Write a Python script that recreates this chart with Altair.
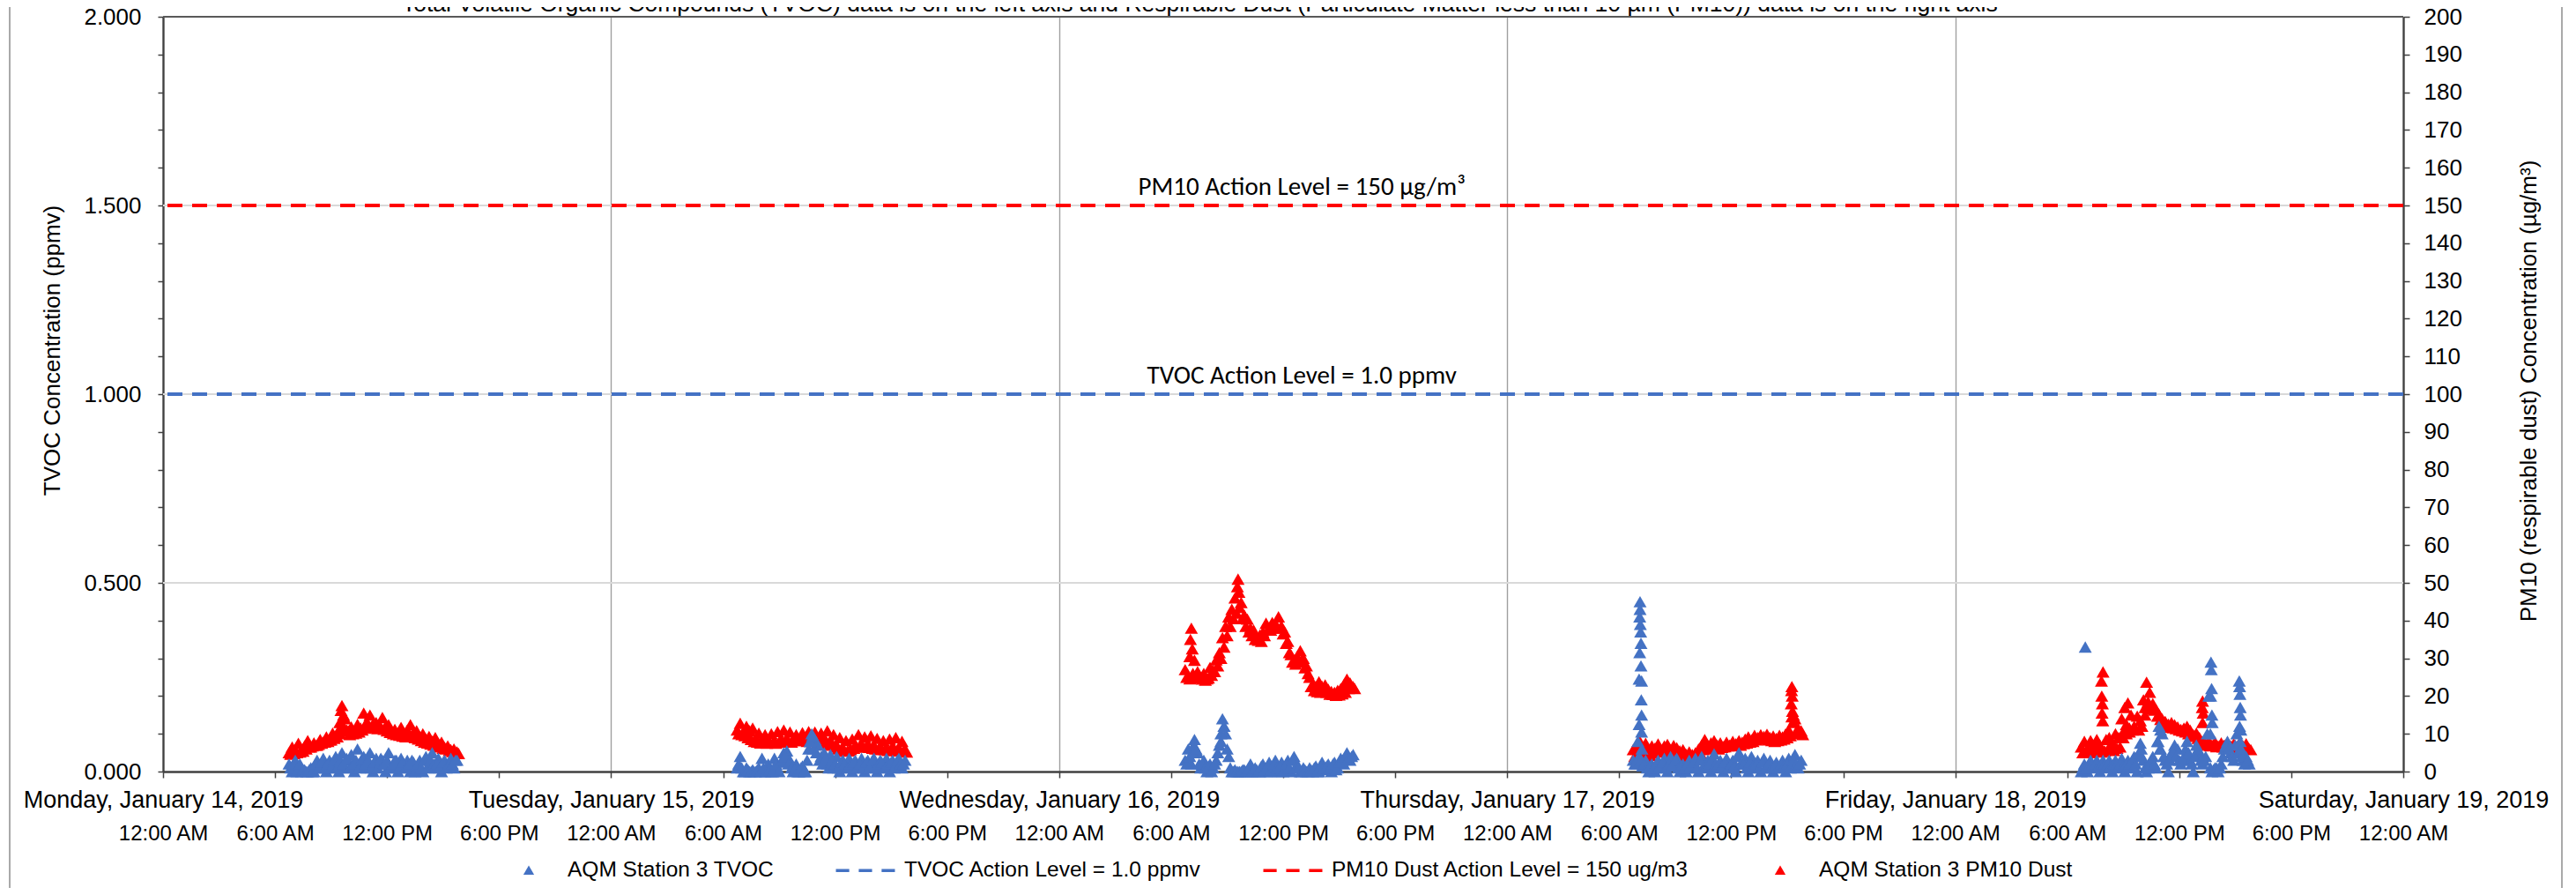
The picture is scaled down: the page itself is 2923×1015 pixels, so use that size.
import altair as alt
import pandas as pd

FONT = "Liberation Sans, Arial, Helvetica, sans-serif"
NOTE_FONT = "Carlito, Lato, sans-serif"
BLUE = "#4472C4"
RED = "#FF0000"
AXIS_DARK = "#404040"

TITLE = ("Total Volatile Organic Compounds (TVOC) data is on the left axis and Respirable Dust "
         "(Particulate Matter less than 10 \u00b5m (PM10)) data is on the right axis")

# ---------------- data ----------------
DAYS = ["2019-01-14", "2019-01-15", "2019-01-16", "2019-01-17", "2019-01-18"]
FIRST_READING = "06:45"
STEP_MINUTES = 10
OFFSET_MINUTES = 5

# PM10 upper edge of the band (readings every 10 min from 06:45)
PM10_MON = [5.0, 6.5, 5.2, 7.5, 5.8, 6.8, 8.2, 6.5, 7.6, 7.0, 8.5, 7.8, 9.2, 8.4, 10.2, 9.4, 11.0, 17.5,
            14.0, 10.8, 11.8, 10.6, 12.5, 11.5, 15.5, 13.2, 15.0, 12.5, 13.0, 11.8, 14.3, 12.0, 12.4, 10.6,
            11.2, 10.0, 11.7, 10.2, 11.0, 12.4, 10.3, 10.8, 9.2, 10.0, 8.6, 9.3, 8.0, 9.0, 7.2, 7.8, 6.4,
            6.8, 5.8, 6.0, 5.2]
PM10_TUE = [11.0, 12.8, 10.5, 12.0, 10.8, 11.5, 9.0, 10.2, 8.5, 9.8, 8.2, 10.0, 8.0, 10.6, 8.6, 11.0, 8.8,
            10.5, 8.4, 9.8, 8.2, 10.3, 8.6, 10.6, 9.0, 10.5, 8.7, 10.2, 9.0, 10.8, 8.3, 9.8, 7.0, 9.0, 6.3,
            8.2, 5.6, 8.6, 6.8, 9.8, 7.3, 9.2, 7.4, 9.5, 7.0, 8.8, 6.7, 8.2, 6.3, 8.6, 6.8, 9.0, 6.0, 8.0, 5.8]
PM10_WED = [27.0, 25.5, 38.0, 29.5, 26.5, 24.8, 26.0, 24.6, 27.6, 26.8, 29.6, 31.5, 35.5, 38.5, 41.0, 43.0,
            46.0, 51.0, 44.8, 41.5, 40.4, 38.0, 37.5, 35.5, 36.2, 37.0, 39.3, 38.0, 39.5, 39.0, 41.0, 38.5,
            37.0, 34.5, 31.0, 29.5, 30.5, 32.0, 30.0, 28.0, 25.0, 23.0, 22.5, 23.8, 22.6, 23.0, 21.8, 21.2,
            21.0, 21.5, 22.0, 23.0, 24.5, 23.5, 22.5]
PM10_THU = [5.8, 7.0, 8.2, 6.5, 7.5, 5.8, 6.8, 6.2, 7.3, 5.8, 6.8, 7.2, 5.8, 6.9, 6.3, 5.5, 5.8, 4.6, 5.2,
            4.5, 5.0, 6.0, 7.0, 8.5, 6.8, 7.6, 8.2, 7.0, 7.6, 6.6, 7.8, 7.0, 8.0, 7.4, 8.2, 7.8, 8.6, 9.2,
            8.4, 9.6, 9.0, 9.8, 9.3, 9.9, 9.0, 9.4, 8.8, 9.6, 9.2, 10.0, 11.0, 22.5, 14.0, 11.5, 10.8]
PM10_FRI = [6.5, 8.0, 6.2, 8.2, 6.8, 8.5, 7.0, 26.4, 8.5, 9.0, 7.8, 10.0, 9.0, 14.0, 17.0, 18.2, 15.0, 12.0,
            14.7, 13.5, 19.0, 23.7, 21.0, 18.0, 16.5, 15.2, 14.0, 13.3, 12.6, 13.0, 12.4, 11.8, 11.2, 11.5,
            12.0, 11.0, 9.8, 10.2, 9.0, 18.7, 7.4, 8.0, 7.0, 7.8, 6.8, 7.6, 7.0, 7.8, 6.8, 7.4, 6.6, 7.8,
            6.8, 7.4, 6.0]

# PM10 lower edge of the band (readings every 10 min from 06:50)
PM10_MON_LOW = [4.6, 4.8, 5.0, 5.2, 5.4, 6.0, 6.5, 6.8, 7.0, 7.2, 7.5, 7.8, 8.0, 8.4, 8.8, 9.2, 10.0, 12.0,
                11.0, 9.8, 10.0, 10.2, 10.5, 11.0, 11.5, 11.8, 12.0, 11.6, 11.4, 11.8, 11.2, 10.8, 10.4,
                10.0, 9.8, 9.6, 9.4, 9.2, 9.4, 9.6, 9.0, 8.6, 8.2, 7.8, 7.6, 7.3, 7.0, 6.8, 6.5, 6.2, 6.0,
                5.6, 5.3, 5.0, 4.8]
PM10_TUE_LOW = [10.0, 9.8, 9.5, 9.0, 8.5, 8.0, 7.8, 7.6, 7.8, 7.5, 7.8, 7.6, 7.5, 7.8, 8.0, 8.2, 8.0, 7.8,
                8.2, 8.5, 8.6, 8.3, 8.0, 8.2, 8.5, 8.0, 8.2, 7.8, 7.6, 7.2, 7.0, 6.5, 6.0, 5.6, 5.4, 5.5,
                5.8, 6.2, 6.5, 6.8, 6.5, 6.6, 6.4, 6.2, 6.0, 6.0, 5.8, 5.8, 5.6, 5.8, 5.6, 5.5, 5.6, 5.4, 5.2]
PM10_WED_LOW = [25.0, 24.6, 26.0, 25.2, 24.8, 24.5, 24.2, 24.8, 25.5, 26.5, 28.0, 30.0, 33.0, 36.0, 38.5,
                40.5, 42.0, 43.5, 40.5, 38.5, 37.0, 36.0, 35.0, 34.8, 34.5, 36.0, 37.5, 37.5, 38.0, 38.5,
                38.0, 36.5, 34.0, 31.5, 29.0, 28.5, 29.0, 29.5, 27.5, 26.0, 22.5, 21.5, 21.2, 21.0, 21.2,
                21.0, 20.5, 20.4, 20.2, 20.3, 20.6, 21.0, 22.0, 22.5, 22.0]
PM10_THU_LOW = [4.0, 4.2, 4.5, 4.2, 4.0, 4.3, 5.0, 5.4, 5.2, 5.5, 5.3, 5.0, 5.4, 5.2, 5.0, 4.4, 4.0, 4.2,
                3.9, 4.1, 4.5, 5.0, 5.8, 6.2, 6.0, 6.2, 6.4, 6.0, 6.4, 6.6, 6.8, 7.0, 6.8, 7.2, 7.0, 7.4,
                7.6, 7.8, 8.0, 8.4, 8.6, 8.8, 8.6, 8.4, 8.2, 8.0, 8.2, 8.4, 8.6, 9.0, 9.5, 15.0, 10.5, 10.0,
                9.8]
PM10_FRI_LOW = [5.0, 5.2, 5.4, 5.0, 5.3, 5.6, 5.2, 5.5, 5.8, 6.0, 5.6, 6.2, 6.5, 9.0, 10.0, 10.5, 11.0,
                11.2, 11.0, 12.0, 15.0, 17.0, 17.0, 16.3, 14.7, 13.8, 12.8, 12.2, 11.8, 11.6, 11.4, 11.0,
                10.8, 10.5, 10.0, 9.6, 9.3, 8.8, 8.2, 7.5, 7.0, 6.8, 7.0, 6.6, 6.8, 6.5, 6.4, 6.2, 6.4, 6.0,
                6.2, 6.3, 6.0, 6.1, 5.8]

# TVOC readings every 10 min from 06:45
TVOC_MON = [0.02, 0.00, 0.03, 0.01, 0.00, 0.005, 0.00, 0.01, 0.00, 0.03, 0.01, 0.035, 0.00, 0.03, 0.02,
            0.04, 0.00, 0.05, 0.01, 0.03, 0.045, 0.00, 0.06, 0.02, 0.04, 0.01, 0.05, 0.00, 0.035, 0.02,
            0.03, 0.00, 0.05, 0.01, 0.03, 0.00, 0.035, 0.02, 0.03, 0.00, 0.025, 0.01, 0.03, 0.00, 0.04,
            0.02, 0.05, 0.01, 0.035, 0.00, 0.03, 0.02, 0.035, 0.01, 0.03]
TVOC_TUE = [0.01, 0.04, 0.00, 0.01, 0.00, 0.005, 0.00, 0.01, 0.035, 0.00, 0.02, 0.00, 0.035, 0.01, 0.025,
            0.05, 0.055, 0.03, 0.00, 0.02, 0.00, 0.015, 0.00, 0.06, 0.10, 0.085, 0.07, 0.04, 0.05, 0.02,
            0.045, 0.01, 0.04, 0.00, 0.03, 0.01, 0.035, 0.00, 0.03, 0.01, 0.035, 0.00, 0.03, 0.02, 0.035,
            0.00, 0.03, 0.01, 0.035, 0.00, 0.03, 0.02, 0.035, 0.01, 0.03]
TVOC_WED = [0.03, 0.06, 0.02, 0.085, 0.05, 0.01, 0.03, 0.00, 0.02, 0.01, 0.03, 0.07, 0.14, 0.10, 0.04,
            0.00, 0.005, 0.00, 0.00, 0.005, 0.00, 0.02, 0.00, 0.005, 0.00, 0.02, 0.00, 0.025, 0.005, 0.03,
            0.00, 0.025, 0.01, 0.03, 0.00, 0.04, 0.02, 0.00, 0.01, 0.00, 0.01, 0.00, 0.015, 0.00, 0.025,
            0.005, 0.02, 0.00, 0.025, 0.01, 0.035, 0.02, 0.05, 0.03, 0.045]
TVOC_THU = [0.03, 0.02, 0.04, 0.015, 0.03, 0.00, 0.02, 0.00, 0.03, 0.01, 0.035, 0.00, 0.04, 0.02, 0.035,
            0.00, 0.02, 0.00, 0.03, 0.01, 0.035, 0.00, 0.04, 0.02, 0.03, 0.00, 0.047, 0.01, 0.03, 0.00,
            0.035, 0.01, 0.03, 0.00, 0.05, 0.02, 0.035, 0.00, 0.04, 0.01, 0.03, 0.00, 0.035, 0.01, 0.03,
            0.00, 0.025, 0.01, 0.03, 0.00, 0.035, 0.02, 0.045, 0.01, 0.03]
TVOC_FRI = [0.00, 0.02, 0.00, 0.03, 0.01, 0.03, 0.00, 0.03, 0.01, 0.03, 0.00, 0.03, 0.01, 0.035, 0.00,
            0.03, 0.01, 0.04, 0.00, 0.075, 0.03, 0.00, 0.02, 0.04, 0.01, 0.12, 0.10, 0.03, 0.00, 0.05,
            0.07, 0.06, 0.02, 0.04, 0.08, 0.03, 0.00, 0.07, 0.05, 0.02, 0.04, 0.20, 0.00, 0.01, 0.00, 0.02,
            0.06, 0.08, 0.05, 0.03, 0.10, 0.06, 0.03, 0.04, 0.02]

# TVOC in-between readings (every 10 min from 06:50)
TVOC_MON_MID = [0.01, 0.02, 0.00, 0.02, 0.005, 0.00, 0.005, 0.00, 0.02, 0.01, 0.025, 0.01, 0.02, 0.01,
                0.03, 0.01, 0.03, 0.02, 0.035, 0.01, 0.02, 0.03, 0.01, 0.035, 0.02, 0.03, 0.01, 0.025, 0.01,
                0.035, 0.02, 0.03, 0.01, 0.02, 0.03, 0.01, 0.025, 0.01, 0.02, 0.03, 0.00, 0.02, 0.01, 0.03,
                0.01, 0.03, 0.02, 0.02, 0.01, 0.025, 0.01, 0.02, 0.02, 0.03]
TVOC_TUE_MID = [0.02, 0.01, 0.00, 0.005, 0.00, 0.00, 0.005, 0.00, 0.01, 0.00, 0.005, 0.00, 0.02, 0.00,
                0.03, 0.04, 0.02, 0.01, 0.005, 0.00, 0.01, 0.00, 0.03, 0.08, 0.06, 0.05, 0.03, 0.02, 0.035,
                0.01, 0.03, 0.02, 0.01, 0.025, 0.02, 0.01, 0.02, 0.025, 0.01, 0.02, 0.01, 0.025, 0.01, 0.03,
                0.01, 0.02, 0.025, 0.01, 0.02, 0.025, 0.01, 0.03, 0.02, 0.02]
TVOC_WED_MID = [0.02, 0.04, 0.05, 0.06, 0.02, 0.02, 0.01, 0.015, 0.00, 0.02, 0.05, 0.10, 0.12, 0.06, 0.01,
                0.00, 0.00, 0.00, 0.005, 0.00, 0.01, 0.00, 0.01, 0.00, 0.015, 0.005, 0.015, 0.00, 0.02,
                0.01, 0.015, 0.00, 0.02, 0.01, 0.03, 0.01, 0.01, 0.00, 0.005, 0.00, 0.005, 0.01, 0.00,
                0.015, 0.01, 0.015, 0.01, 0.02, 0.005, 0.025, 0.03, 0.04, 0.035, 0.04]
TVOC_THU_MID = [0.02, 0.035, 0.03, 0.02, 0.01, 0.015, 0.01, 0.02, 0.015, 0.025, 0.01, 0.02, 0.015, 0.03,
                0.01, 0.015, 0.01, 0.02, 0.015, 0.025, 0.01, 0.03, 0.01, 0.015, 0.02, 0.035, 0.02, 0.02,
                0.015, 0.025, 0.01, 0.02, 0.015, 0.04, 0.02, 0.02, 0.01, 0.025, 0.015, 0.02, 0.01, 0.025,
                0.01, 0.02, 0.01, 0.015, 0.01, 0.02, 0.015, 0.02, 0.01, 0.03, 0.02, 0.02]
TVOC_FRI_MID = [0.01, 0.01, 0.015, 0.02, 0.02, 0.015, 0.02, 0.02, 0.02, 0.015, 0.02, 0.02, 0.02, 0.015,
                0.02, 0.02, 0.03, 0.02, 0.05, 0.04, 0.01, 0.01, 0.03, 0.02, 0.08, 0.06, 0.04, 0.02, 0.03,
                0.05, 0.04, 0.03, 0.03, 0.06, 0.05, 0.02, 0.04, 0.06, 0.03, 0.03, 0.10, 0.01, 0.005, 0.01,
                0.01, 0.04, 0.07, 0.06, 0.04, 0.07, 0.05, 0.04, 0.02, 0.03]

# short bursts of readings (spikes) between the regular readings
TVOC_BURST_TIME = ["2019-01-15 10:40", "2019-01-15 10:48",
                   "2019-01-16 07:13", "2019-01-16 08:40", "2019-01-16 08:50",
                   "2019-01-17 07:07", "2019-01-17 07:07", "2019-01-17 07:06", "2019-01-17 07:08",
                   "2019-01-17 07:09", "2019-01-17 07:10", "2019-01-17 07:06", "2019-01-17 07:10",
                   "2019-01-17 07:04", "2019-01-17 07:12", "2019-01-17 07:11", "2019-01-17 07:12",
                   "2019-01-17 07:04", "2019-01-17 07:12", "2019-01-17 07:00", "2019-01-17 07:13",
                   "2019-01-18 06:58", "2019-01-18 09:58", "2019-01-18 10:52", "2019-01-18 10:58",
                   "2019-01-18 11:00", "2019-01-18 13:42", "2019-01-18 13:43", "2019-01-18 13:44",
                   "2019-01-18 13:41", "2019-01-18 13:45", "2019-01-18 13:46", "2019-01-18 13:40",
                   "2019-01-18 15:13", "2019-01-18 15:14", "2019-01-18 15:15", "2019-01-18 15:16",
                   "2019-01-18 15:17", "2019-01-18 15:14", "2019-01-18 15:18", "2019-01-18 15:16",
                   "2019-01-18 15:19"]
TVOC_BURST_VALUE = [0.08, 0.095,
                    0.07, 0.08, 0.12,
                    0.45, 0.43, 0.41, 0.39, 0.37, 0.34, 0.315, 0.28, 0.245, 0.24, 0.19, 0.15, 0.125,
                    0.105, 0.08, 0.06,
                    0.33, 0.06, 0.08, 0.06, 0.11, 0.29, 0.27, 0.22, 0.20, 0.15, 0.13, 0.10,
                    0.24, 0.225, 0.205, 0.17, 0.15, 0.12, 0.11, 0.08, 0.06]
PM10_BURST_TIME = ["2019-01-14 09:28", "2019-01-14 09:32", "2019-01-14 09:40",
                   "2019-01-16 07:00", "2019-01-16 07:02", "2019-01-16 07:08", "2019-01-16 09:33",
                   "2019-01-16 09:38",
                   "2019-01-17 15:13", "2019-01-17 15:14", "2019-01-17 15:15", "2019-01-17 15:16",
                   "2019-01-17 15:17", "2019-01-17 15:18",
                   "2019-01-18 07:50", "2019-01-18 07:51", "2019-01-18 07:52", "2019-01-18 07:53",
                   "2019-01-18 07:54", "2019-01-18 09:00", "2019-01-18 09:10", "2019-01-18 09:20",
                   "2019-01-18 10:10", "2019-01-18 10:20", "2019-01-18 10:30", "2019-01-18 13:14",
                   "2019-01-18 13:15", "2019-01-18 13:17"]
PM10_BURST_VALUE = [13.0, 16.2, 15.0,
                    30.5, 35.0, 32.5, 49.0, 47.5,
                    18.0, 21.5, 14.5, 20.0, 16.0, 13.0,
                    24.0, 20.0, 15.5, 18.0, 13.5, 10.5, 12.5, 11.5, 17.0, 18.5, 16.5, 17.0, 13.0, 15.5]

TVOC_ACTION = 1.0
PM10_ACTION = 150
NOTE_TIME = "2019-01-16 13:00"
TVOC_NOTE = "TVOC Action Level = 1.0 ppmv"
PM10_NOTE = "PM10 Action Level = 150 \u00b5g/m\u00b3"

GRID_LEVELS = [0.5, 1.0, 1.5]
TOP_LEVEL = 2.0
LEFT_TICKS = [0.0, 0.1, 0.2, 0.3, 0.4, 0.5, 0.6, 0.7, 0.8, 0.9, 1.0, 1.1, 1.2, 1.3, 1.4, 1.5, 1.6, 1.7,
              1.8, 1.9, 2.0]
RIGHT_TICKS = [0, 10, 20, 30, 40, 50, 60, 70, 80, 90, 100, 110, 120, 130, 140, 150, 160, 170, 180, 190, 200]
DAY_TICK_DATES = [14, 15, 16, 17, 18, 19]
TIME_TICK_HOURS = [0, 6, 12, 18]

LEGEND_LABELS = ["AQM Station 3 TVOC", "TVOC Action Level = 1.0 ppmv",
                 "PM10 Dust Action Level = 150 ug/m3", "AQM Station 3 PM10 Dust"]
LEGEND_COLORS = [BLUE, BLUE, RED, RED]
TRI_PATH = "M0,-0.16 L0.17,0.13 L-0.17,0.13 Z"
DASH_PATH = ("M-0.93,-0.05 L-0.51,-0.05 L-0.51,0.05 L-0.93,0.05 Z "
             "M-0.21,-0.05 L0.21,-0.05 L0.21,0.05 L-0.21,0.05 Z "
             "M0.51,-0.05 L0.93,-0.05 L0.93,0.05 L0.51,0.05 Z")
LEGEND_SHAPES = [TRI_PATH, DASH_PATH, DASH_PATH, TRI_PATH]


# ---------------- tables ----------------
def regular_frame(day_lists, offset=0):
    rows = []
    for day, values in zip(DAYS, day_lists):
        start = pd.Timestamp(f"{day} {FIRST_READING}") + pd.Timedelta(minutes=offset)
        for i, v in enumerate(values):
            rows.append({"t": start + pd.Timedelta(minutes=STEP_MINUTES * i), "v": v})
    return pd.DataFrame(rows)


tvoc_df = pd.concat([regular_frame([TVOC_MON, TVOC_TUE, TVOC_WED, TVOC_THU, TVOC_FRI]),
                     regular_frame([TVOC_MON_MID, TVOC_TUE_MID, TVOC_WED_MID, TVOC_THU_MID, TVOC_FRI_MID],
                                   offset=OFFSET_MINUTES),
                     pd.DataFrame({"t": pd.to_datetime(TVOC_BURST_TIME), "v": TVOC_BURST_VALUE})],
                    ignore_index=True)
pm_df = pd.concat([regular_frame([PM10_MON, PM10_TUE, PM10_WED, PM10_THU, PM10_FRI]),
                   regular_frame([PM10_MON_LOW, PM10_TUE_LOW, PM10_WED_LOW, PM10_THU_LOW, PM10_FRI_LOW],
                                 offset=OFFSET_MINUTES),
                   pd.DataFrame({"t": pd.to_datetime(PM10_BURST_TIME), "v": PM10_BURST_VALUE})],
                  ignore_index=True)

# ---------------- scales & axes ----------------
XS = alt.Scale(domain=[alt.DateTime(year=2019, month=1, date=DAY_TICK_DATES[0]),
                       alt.DateTime(year=2019, month=1, date=DAY_TICK_DATES[-1])])

date_axis = alt.Axis(
    orient="bottom", title=None,
    values=[alt.DateTime(year=2019, month=1, date=d) for d in DAY_TICK_DATES],
    format="%A, %B %-d, %Y", labelFontSize=27, labelColor="black", labelFont=FONT, labelLimit=1000,
    ticks=False, tickSize=0, labelPadding=19, labelFlush=False, labelOverlap=False,
    domain=True, domainColor=AXIS_DARK, domainWidth=2.3,
    grid=True, gridColor="#A0A0A0", gridWidth=1.4)

time_axis = alt.Axis(
    orient="bottom", title=None,
    values=[alt.DateTime(year=2019, month=1, date=d, hours=h)
            for d in DAY_TICK_DATES for h in TIME_TICK_HOURS
            if not (d == DAY_TICK_DATES[-1] and h > 0)],
    format="%-I:%M %p", labelFontSize=24, labelColor="black", labelFont=FONT, labelLimit=1000,
    ticks=True, tickSize=7, tickWidth=1.5, tickColor=AXIS_DARK, labelPadding=51,
    labelFlush=False, labelOverlap=False, domain=False, grid=False)

left_axis = alt.Axis(
    orient="left", values=LEFT_TICKS,
    labelExpr="abs(round(datum.value * 10) % 5) == 0 ? format(datum.value, '.3f') : ''",
    labelFontSize=26, labelColor="black", labelFont=FONT, labelPadding=19, labelOverlap=False,
    tickSize=6, tickWidth=1.5, tickColor=AXIS_DARK,
    domain=True, domainColor=AXIS_DARK, domainWidth=2.3, grid=False,
    title="TVOC Concentration (ppmv)", titleFont=FONT, titleFontSize=26, titleFontWeight="normal",
    titleColor="black", titleAngle=270, titleX=-126, titleY=378, titleAlign="center",
    titleBaseline="middle")

right_axis = alt.Axis(
    orient="right", values=RIGHT_TICKS, format="d",
    labelFontSize=26, labelColor="black", labelFont=FONT, labelPadding=16, labelOverlap=False,
    tickSize=7, tickWidth=1.5, tickColor=AXIS_DARK,
    domain=True, domainColor=AXIS_DARK, domainWidth=2.3, grid=False,
    title="PM10 (respirable dust) Concentration (\u00b5g/m\u00b3)", titleFont=FONT, titleFontSize=26,
    titleFontWeight="normal", titleColor="black", titleAngle=270, titleX=142, titleY=424,
    titleAlign="center", titleBaseline="middle")

X_DATE = alt.X("t:T", scale=XS, axis=date_axis)
X_TIME = alt.X("t:T", scale=XS, axis=time_axis)
X_NONE = alt.X("t:T", scale=XS, axis=None)
Y_LEFT = alt.Y("v:Q", scale=alt.Scale(domain=[0, 2]), axis=left_axis)
Y_LEFT_NONE = alt.Y("v:Q", scale=alt.Scale(domain=[0, 2]), axis=None)
Y_RIGHT = alt.Y("v:Q", scale=alt.Scale(domain=[0, 200]), axis=right_axis)

POINT_SIZE = 220

# ---------------- base group (left axis, dates, grid, legend) ----------------
grid = alt.Chart(pd.DataFrame({"v": GRID_LEVELS})).mark_rule(
    color="#D9D9D9", strokeWidth=2).encode(y=Y_LEFT)
top_line = alt.Chart(pd.DataFrame({"v": [TOP_LEVEL]})).mark_rule(
    color="#595959", strokeWidth=2).encode(y=Y_LEFT)
tvoc_rule = alt.Chart(pd.DataFrame({"v": [TVOC_ACTION]})).mark_rule(
    color=BLUE, strokeDash=[17, 11], strokeWidth=4).encode(y=Y_LEFT)
tvoc_note = alt.Chart(pd.DataFrame({"t": [pd.Timestamp(NOTE_TIME)], "v": [TVOC_ACTION],
                                    "label": [TVOC_NOTE]})).mark_text(
    font=NOTE_FONT, fontSize=29, color="black", align="center", baseline="alphabetic", dy=-12
).encode(x=X_DATE, y=Y_LEFT, text="label:N")
title_text = alt.Chart(pd.DataFrame({"label": [TITLE]})).mark_text(
    font=FONT, fontSize=26.5, color="black", align="left", baseline="alphabetic"
).encode(x=alt.value(271), y=alt.value(-6), text="label:N")

legend = alt.Legend(
    title=None, orient="none", legendX=379, legendY=932, direction="horizontal", columns=4,
    columnPadding=67, labelFontSize=24.5, labelFont=FONT, labelColor="black", labelOffset=8,
    labelLimit=1000, symbolSize=5184, symbolStrokeWidth=0, symbolOpacity=1, padding=0)
legend_layer = alt.Chart(pd.DataFrame({"series": LEGEND_LABELS})).mark_point(
    filled=True
).encode(
    x=alt.value(-5000), y=alt.value(-5000),
    color=alt.Color("series:N", scale=alt.Scale(domain=LEGEND_LABELS, range=LEGEND_COLORS),
                    legend=legend),
    shape=alt.Shape("series:N", scale=alt.Scale(domain=LEGEND_LABELS, range=LEGEND_SHAPES),
                    legend=legend))

border_left = alt.Chart(pd.DataFrame({"v": [0]})).mark_rule(color="#8C8C8C", strokeWidth=1.5).encode(
    x=alt.value(-174), y=alt.value(-40), y2=alt.value(1000))
border_right = alt.Chart(pd.DataFrame({"v": [0]})).mark_rule(color="#8C8C8C", strokeWidth=1.5).encode(
    x=alt.value(2722), y=alt.value(-40), y2=alt.value(1000))

base_group = alt.layer(grid, top_line, tvoc_rule, tvoc_note, title_text, legend_layer,
                       border_left, border_right)

# ---------------- PM10 group (right axis, times) ----------------
pm_rule = alt.Chart(pd.DataFrame({"v": [PM10_ACTION]})).mark_rule(
    color=RED, strokeDash=[17, 11], strokeWidth=4
).encode(y=Y_RIGHT)
pm_note = alt.Chart(pd.DataFrame({"t": [pd.Timestamp(NOTE_TIME)], "v": [PM10_ACTION],
                                  "label": [PM10_NOTE]})).mark_text(
    font=NOTE_FONT, fontSize=29, color="black", align="center", baseline="alphabetic", dy=-12
).encode(x=X_TIME, y=Y_RIGHT, text="label:N")
pm_points = alt.Chart(pm_df).mark_point(
    shape="triangle-up", filled=True, size=POINT_SIZE, color=RED, opacity=1
).encode(x=X_TIME, y=Y_RIGHT)
pm_group = alt.layer(pm_rule, pm_note, pm_points)

# ---------------- TVOC points on top ----------------
tvoc_points = alt.Chart(tvoc_df).mark_point(
    shape="triangle-up", filled=True, size=POINT_SIZE, color=BLUE, opacity=1
).encode(x=X_NONE, y=Y_LEFT_NONE)

chart = alt.layer(base_group, pm_group, tvoc_points).resolve_scale(y="independent").resolve_axis(
    x="independent", y="independent"
).properties(
    width=2542, height=856,
    padding={"left": 177, "top": 11, "right": 188, "bottom": 132},
    autosize=alt.AutoSizeParams(type="none"),
    background="white",
).configure_view(stroke=None).configure(font=FONT)

chart.save("out.html", embed_options={"renderer": "svg", "actions": False})
